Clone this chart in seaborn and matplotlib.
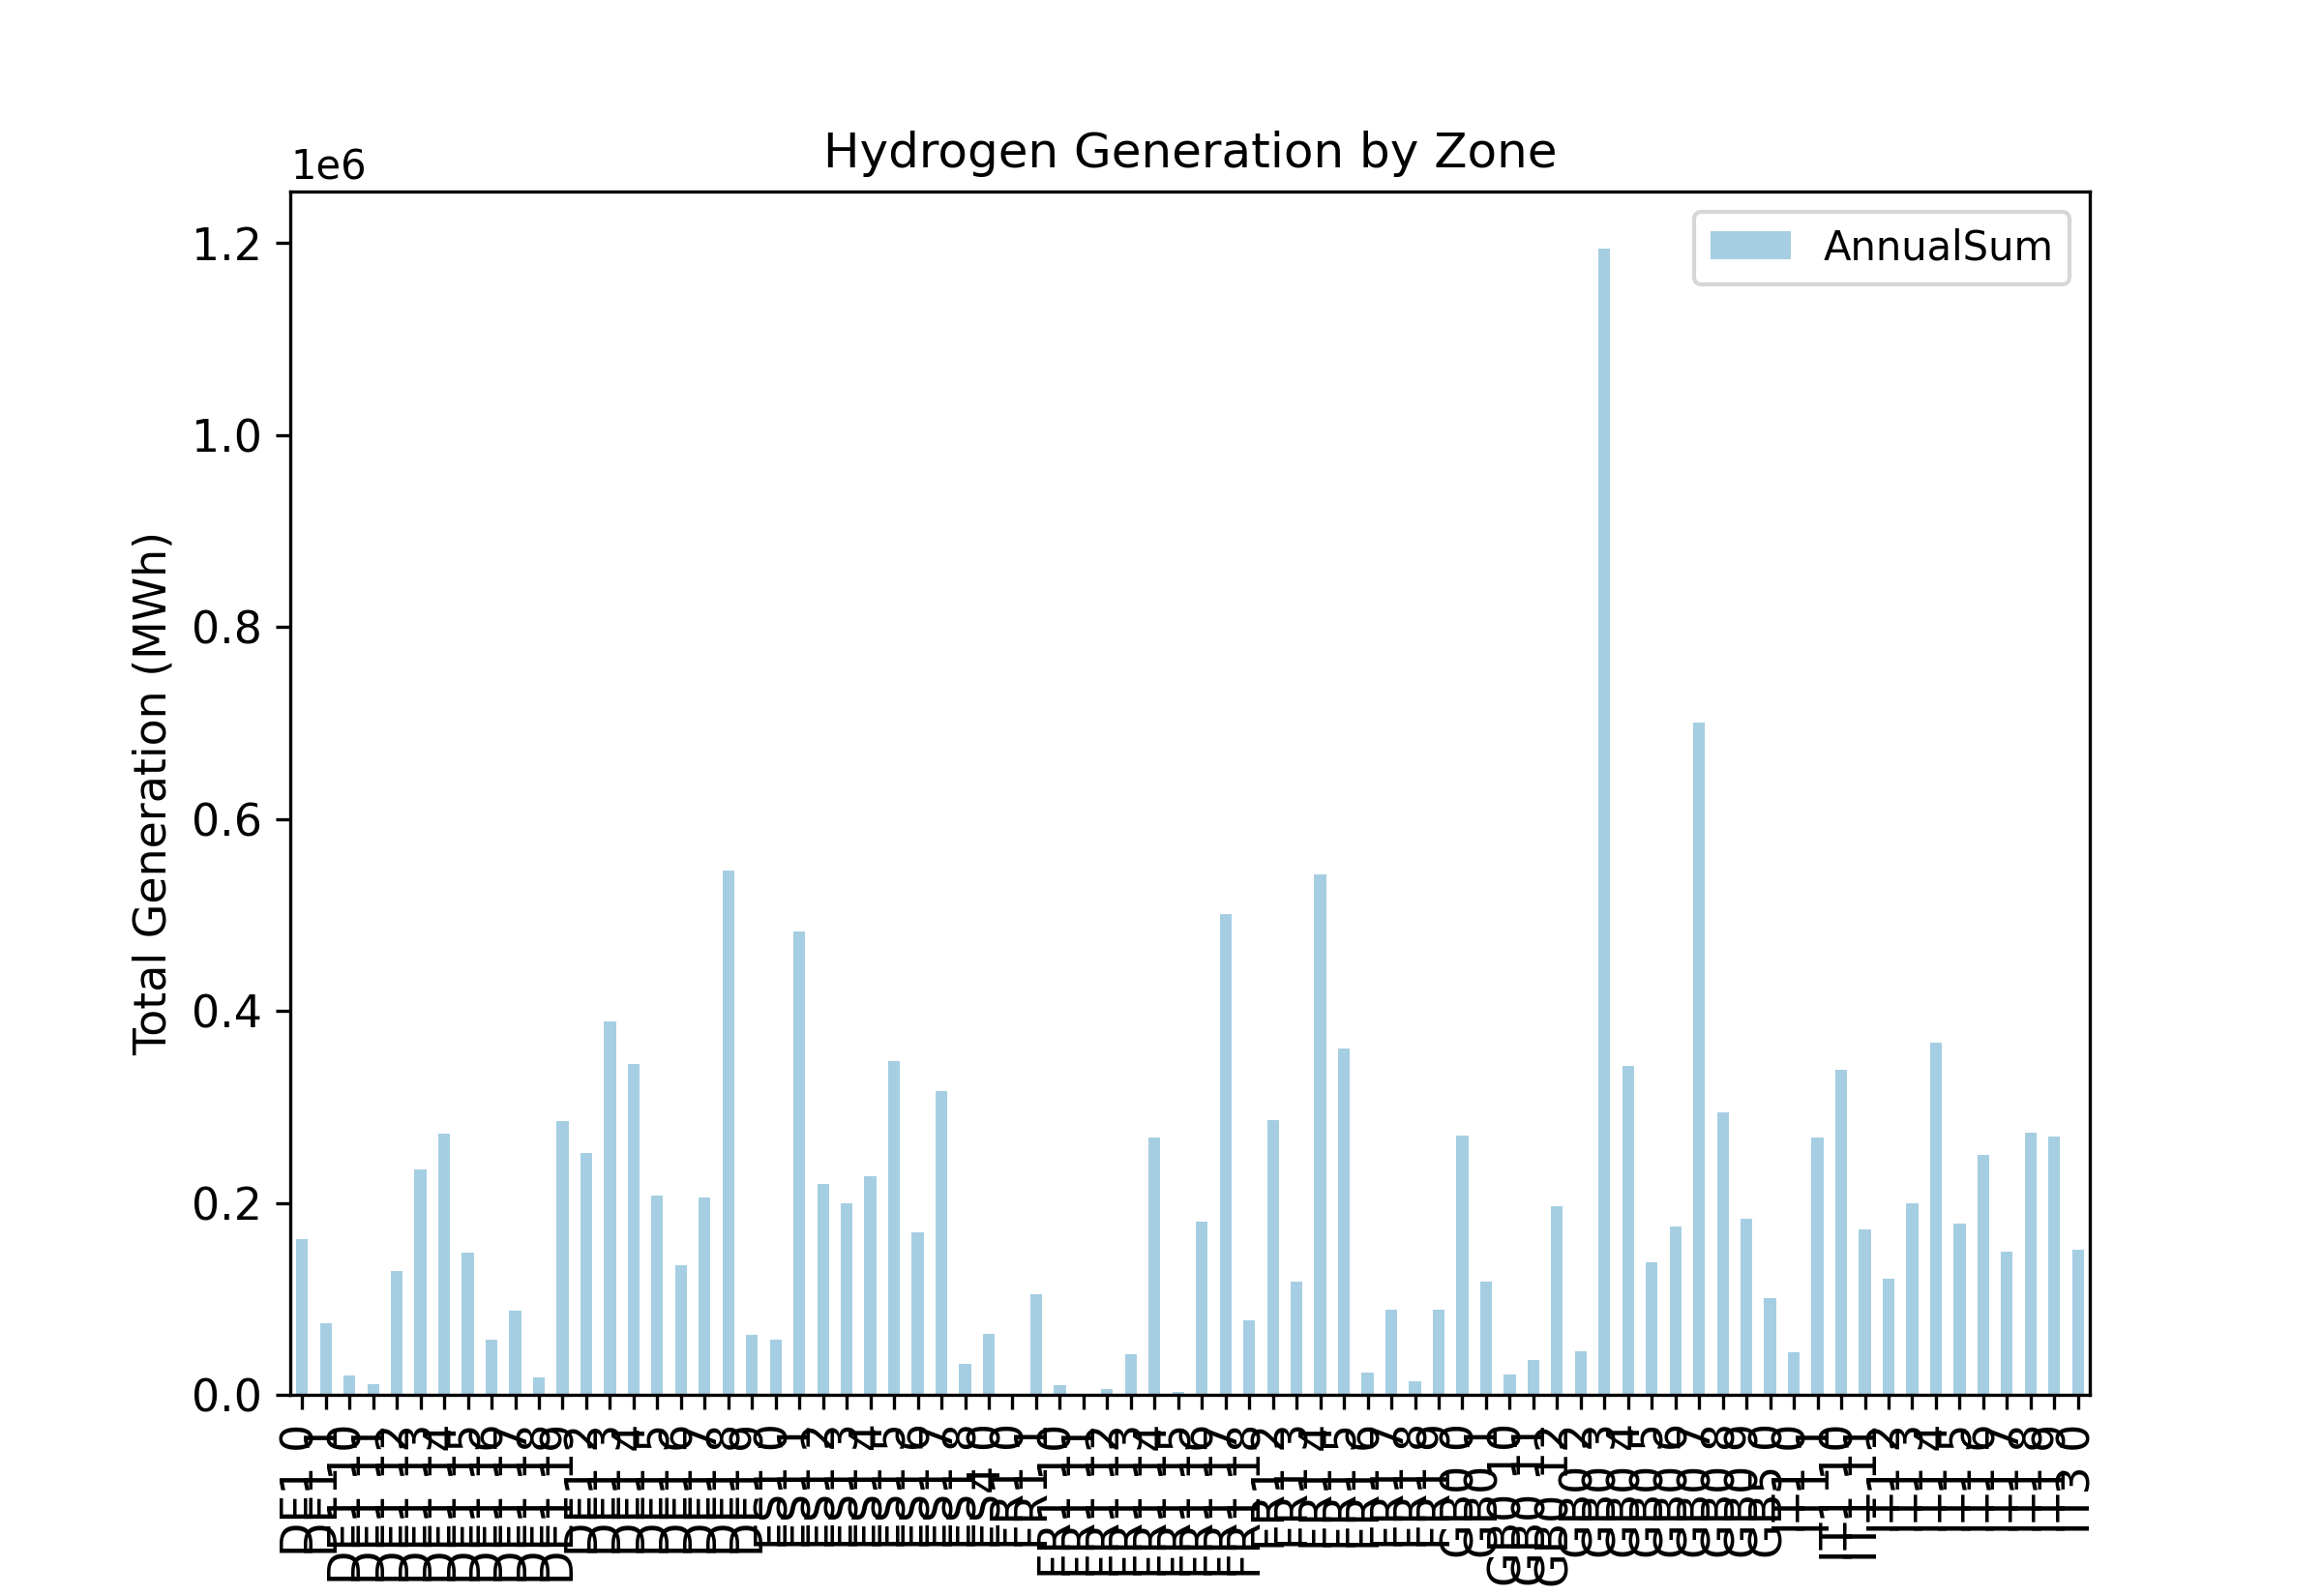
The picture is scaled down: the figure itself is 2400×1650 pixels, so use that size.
"""Hydrogen generation per zone, bar chart (AnnualSum in MWh)."""
import matplotlib
matplotlib.use("Agg")
import matplotlib.pyplot as plt
import pandas as pd
import seaborn as sns

ZONES = [
    "DE1 0", "DE1 1", "DE1 10", "DE1 11", "DE1 12", "DE1 13", "DE1 14", "DE1 15",
    "DE1 16", "DE1 17", "DE1 18", "DE1 19", "DE1 2", "DE1 3", "DE1 4", "DE1 5",
    "DE1 6", "DE1 7", "DE1 8", "DE1 9",
    "ES1 0", "ES1 1", "ES1 2", "ES1 3", "ES1 4", "ES1 5", "ES1 6", "ES1 7", "ES1 8",
    "ES4 0",
    "FR1 0", "FR1 1", "FR1 10", "FR1 11", "FR1 12", "FR1 13", "FR1 14", "FR1 15",
    "FR1 16", "FR1 17", "FR1 18", "FR1 2", "FR1 3", "FR1 4", "FR1 5", "FR1 6",
    "FR1 7", "FR1 8", "FR1 9",
    "GB0 0", "GB0 1", "GB0 10", "GB0 11", "GB0 12", "GB0 2", "GB0 3", "GB0 4",
    "GB0 5", "GB0 6", "GB0 7", "GB0 8", "GB0 9",
    "GB5 0",
    "IT1 0", "IT1 1", "IT1 10", "IT1 11", "IT1 2", "IT1 3", "IT1 4", "IT1 5",
    "IT1 6", "IT1 7", "IT1 8", "IT1 9",
    "IT3 0",
]

# annual sums in MWh
ANNUAL_SUM = [
    162000, 75000, 20000, 11000, 129000, 235000, 272000, 148000,
    58000, 88000, 18000, 285000, 252000, 389000, 345000, 208000,
    135000, 206000, 546000, 63000,
    58000, 483000, 220000, 200000, 228000, 348000, 169000, 317000, 32500,
    64000,
    1000, 105000, 10600, 0, 6600, 42400, 268000, 2700,
    180000, 501000, 78000, 286000, 118000, 542000, 361000, 23000,
    89000, 14000, 89000,
    270000, 118000, 21000, 36000, 197000, 45000, 1194000, 343000,
    138000, 175000, 700000, 294000, 184000,
    101000,
    44000, 268000, 339000, 172000, 121000, 200000, 367000, 178000,
    250000, 149000, 273000, 269000,
    151000,
]

BAR_COLOR = "#a6cee3"


def main() -> None:
    df = pd.DataFrame({"zone": ZONES, "AnnualSum": ANNUAL_SUM})

    fig, ax = plt.subplots(figsize=(8, 5.5))
    fig.subplots_adjust(left=0.125, right=0.9, bottom=0.126, top=0.88)
    sns.barplot(data=df, x="zone", y="AnnualSum", color=BAR_COLOR,
                width=0.5, saturation=1, ax=ax)
    ax.containers[0].set_label("AnnualSum")

    ax.set_title("Hydrogen Generation by Zone")
    ax.set_xlabel("")
    ax.set_ylabel("Total Generation (MWh)", fontsize=11)
    ax.tick_params(axis="both", labelsize=11)
    ax.tick_params(axis="x", labelrotation=90)
    ax.legend(loc="upper right")

    fig.savefig("out.png", dpi=300)
    plt.close(fig)


if __name__ == "__main__":
    main()
